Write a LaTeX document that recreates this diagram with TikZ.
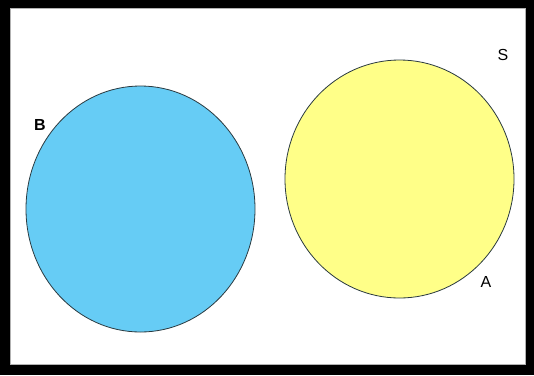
\documentclass[tikz,border=0pt]{standalone}
\usepackage{fontspec}
\setmainfont{Liberation Sans}
\definecolor{setblue}{HTML}{66CCF5}
\definecolor{setyellow}{HTML}{FFFF88}
\definecolor{edgeline}{HTML}{2A3A40}
\begin{document}
\begin{tikzpicture}[x=1pt,y=-1pt,
  setlabel/.style={font=\fontsize{16}{16}\selectfont, inner sep=0pt}]
\useasboundingbox (0,0) rectangle (534,375);
\fill[black] (0,0) rectangle (534,375);
\fill[white] (10,8) rectangle (526,365);
\draw[gray!60, line width=1pt] (10.5,8.5) rectangle (525.5,364.5);
\draw[edgeline, line width=0.8pt, fill=setblue] (140.5,209) ellipse [x radius=114.5, y radius=123];
\draw[edgeline, line width=0.8pt, fill=setyellow] (399.5,179) ellipse [x radius=114.5, y radius=119];
\node[setlabel] (S) at (503,55) {S};
\node[setlabel, font=\fontsize{16}{16}\selectfont\bfseries] (B) at (40,125) {B};
\node[setlabel] (A) at (486,282) {A};
\end{tikzpicture}
\end{document}
